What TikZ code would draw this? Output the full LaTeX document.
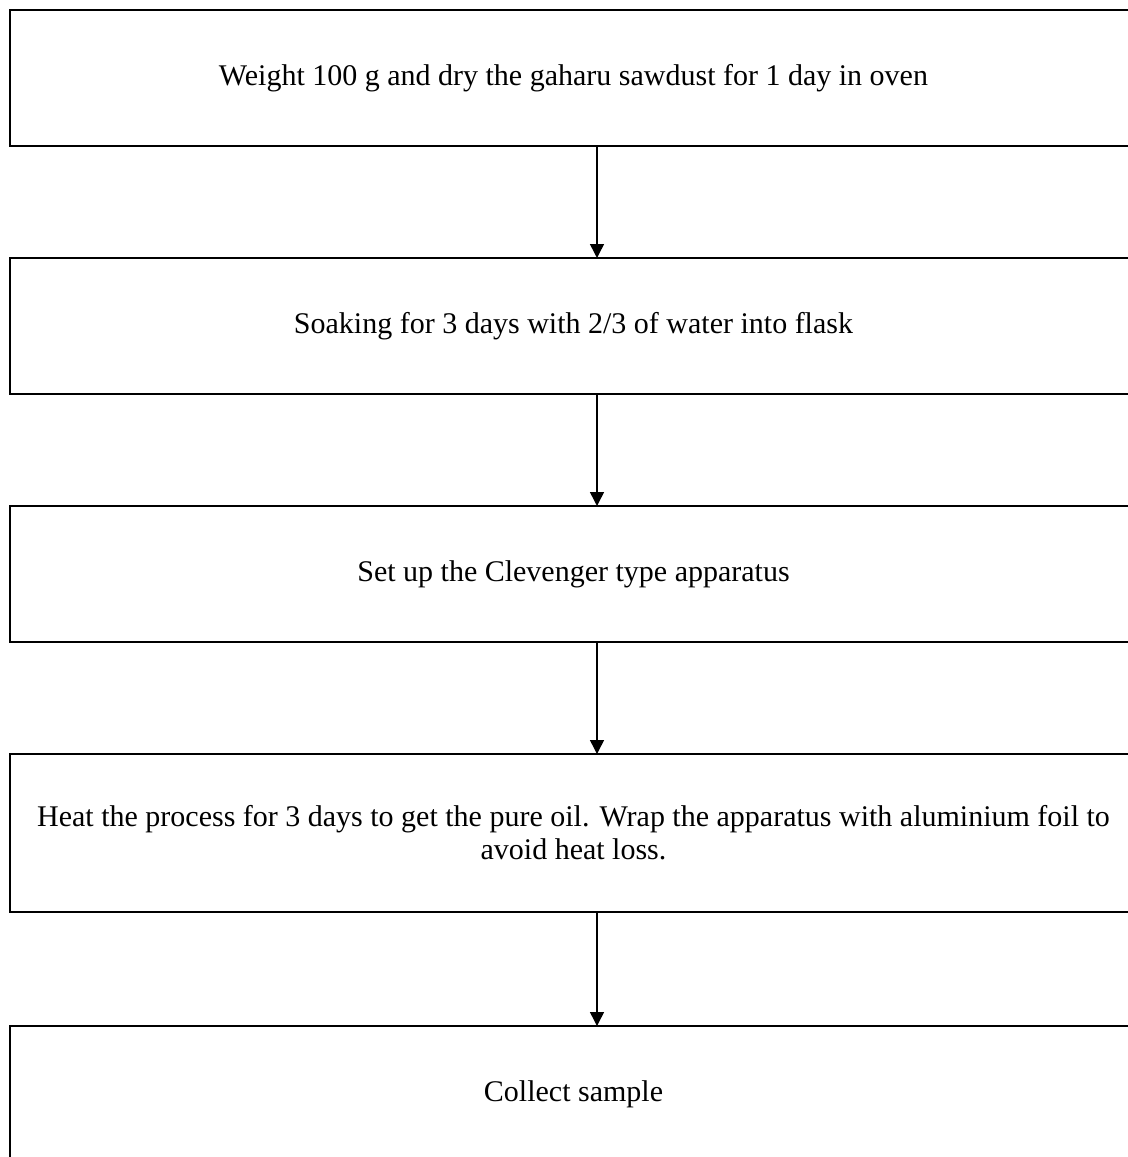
\documentclass[tikz,border=0pt]{standalone}
\usepackage{fontspec}
\setmainfont{Liberation Serif}
\usetikzlibrary{arrows.meta,positioning}

\begin{document}
\begin{tikzpicture}[node distance=56pt,
  font=\fontsize{15pt}{16.5pt}\selectfont,
  box/.style={draw,line width=0.75pt,minimum width=563.5pt,minimum height=68pt,inner sep=0pt,outer sep=0pt,align=center},
  flow/.style={line width=0.75pt,-{Triangle[width=7pt,length=7pt]}}]
  \useasboundingbox (0,0) rectangle (564pt,-578.5pt);
  \clip (0,0) rectangle (564pt,-578.5pt);
  \node[box] (dry) at (286.75pt,-39pt) {Weight 100 g and dry the gaharu sawdust for 1 day in oven};
  \node[box,below=of dry] (soak) {Soaking for 3 days with 2/3 of water into flask};
  \node[box,below=of soak] (setup) {Set up the Clevenger type apparatus};
  \node[box,below=of setup,minimum height=79pt] (heat) {Heat the process for 3 days to get the pure oil. Wrap the apparatus with aluminium foil to\\avoid heat loss.};
  \node[box,below=57pt of heat] (collect) {Collect sample};
  \draw[flow] ([xshift=11.75pt]dry.south)--([xshift=11.75pt]soak.north);
  \draw[flow] ([xshift=11.75pt]soak.south)--([xshift=11.75pt]setup.north);
  \draw[flow] ([xshift=11.75pt]setup.south)--([xshift=11.75pt]heat.north);
  \draw[flow] ([xshift=11.75pt]heat.south)--([xshift=11.75pt]collect.north);
\end{tikzpicture}
\end{document}
